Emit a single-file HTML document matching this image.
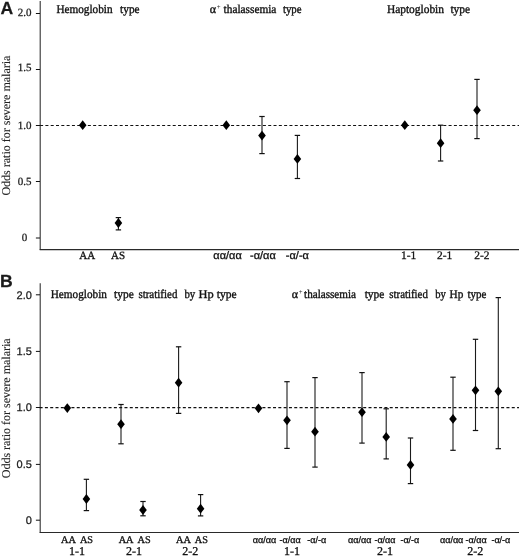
<!DOCTYPE html>
<html><head><meta charset="utf-8"><style>
html,body{margin:0;padding:0;background:#fff;width:520px;height:556px;overflow:hidden}
svg{display:block;will-change:transform;filter:blur(0.3px)}
text{fill:#111;text-rendering:geometricPrecision}
.hd{stroke:#111;stroke-width:0.35px}
.md{stroke:#111;stroke-width:0.3px}
.yl{fill:#222;stroke:#222;stroke-width:0.1px}
.pl{fill:#333}
.lt{fill:#1a1a1a;stroke:#1a1a1a;stroke-width:0.25px}
</style></head><body>
<svg width="520" height="556" viewBox="0 0 520 556">
<line x1="40.2" y1="1" x2="40.2" y2="250.1" stroke="#333" stroke-width="1.1" />
<line x1="39.7" y1="249.6" x2="519" y2="249.6" stroke="#2a2a2a" stroke-width="1.2" />
<line x1="35.9" y1="13.5" x2="40" y2="13.5" stroke="#111" stroke-width="1.0" />
<line x1="35.9" y1="69.5" x2="40" y2="69.5" stroke="#111" stroke-width="1.0" />
<line x1="35.9" y1="125.5" x2="40" y2="125.5" stroke="#111" stroke-width="1.0" />
<line x1="35.9" y1="181.5" x2="40" y2="181.5" stroke="#111" stroke-width="1.0" />
<line x1="35.9" y1="238.0" x2="40" y2="238.0" stroke="#111" stroke-width="1.0" />
<line x1="40.1" y1="125.5" x2="519" y2="125.5" stroke="#111" stroke-width="1.1" stroke-dasharray="3 2.305"/>
<path d="M82.7,120.3 L86.5,125.2 L82.7,130.1 L78.9,125.2 Z" fill="#000"/>
<line x1="118.4" y1="217.6" x2="118.4" y2="229.9" stroke="#1a1a1a" stroke-width="1.1" />
<line x1="115.7" y1="217.6" x2="121.10000000000001" y2="217.6" stroke="#111" stroke-width="1.2" />
<line x1="115.7" y1="229.9" x2="121.10000000000001" y2="229.9" stroke="#111" stroke-width="1.2" />
<path d="M118.4,218.1 L122.2,223 L118.4,227.9 L114.60000000000001,223 Z" fill="#000"/>
<path d="M226.3,120.3 L230.10000000000002,125.2 L226.3,130.1 L222.5,125.2 Z" fill="#000"/>
<line x1="262.0" y1="116.5" x2="262.0" y2="153.6" stroke="#1a1a1a" stroke-width="1.1" />
<line x1="259.3" y1="116.5" x2="264.7" y2="116.5" stroke="#111" stroke-width="1.2" />
<line x1="259.3" y1="153.6" x2="264.7" y2="153.6" stroke="#111" stroke-width="1.2" />
<path d="M262.0,130.7 L265.8,135.6 L262.0,140.5 L258.2,135.6 Z" fill="#000"/>
<line x1="297.4" y1="135.4" x2="297.4" y2="178.5" stroke="#1a1a1a" stroke-width="1.1" />
<line x1="294.7" y1="135.4" x2="300.09999999999997" y2="135.4" stroke="#111" stroke-width="1.2" />
<line x1="294.7" y1="178.5" x2="300.09999999999997" y2="178.5" stroke="#111" stroke-width="1.2" />
<path d="M297.4,154.0 L301.2,158.9 L297.4,163.8 L293.59999999999997,158.9 Z" fill="#000"/>
<path d="M404.8,120.3 L408.6,125.2 L404.8,130.1 L401.0,125.2 Z" fill="#000"/>
<line x1="440.6" y1="125.2" x2="440.6" y2="161" stroke="#1a1a1a" stroke-width="1.1" />
<line x1="437.90000000000003" y1="125.2" x2="443.3" y2="125.2" stroke="#111" stroke-width="1.2" />
<line x1="437.90000000000003" y1="161" x2="443.3" y2="161" stroke="#111" stroke-width="1.2" />
<path d="M440.6,138.29999999999998 L444.40000000000003,143.2 L440.6,148.1 L436.8,143.2 Z" fill="#000"/>
<line x1="477.0" y1="79.4" x2="477.0" y2="138.6" stroke="#1a1a1a" stroke-width="1.1" />
<line x1="474.3" y1="79.4" x2="479.7" y2="79.4" stroke="#111" stroke-width="1.2" />
<line x1="474.3" y1="138.6" x2="479.7" y2="138.6" stroke="#111" stroke-width="1.2" />
<path d="M477.0,105.3 L480.8,110.2 L477.0,115.10000000000001 L473.2,110.2 Z" fill="#000"/>
<line x1="40.2" y1="283.3" x2="40.2" y2="533.0" stroke="#333" stroke-width="1.1" />
<line x1="39.7" y1="532.5" x2="519" y2="532.5" stroke="#2a2a2a" stroke-width="1.2" />
<line x1="35.9" y1="294.8" x2="40" y2="294.8" stroke="#111" stroke-width="1.0" />
<line x1="35.9" y1="351.4" x2="40" y2="351.4" stroke="#111" stroke-width="1.0" />
<line x1="35.9" y1="407.5" x2="40" y2="407.5" stroke="#111" stroke-width="1.0" />
<line x1="35.9" y1="464.4" x2="40" y2="464.4" stroke="#111" stroke-width="1.0" />
<line x1="35.9" y1="520.2" x2="40" y2="520.2" stroke="#111" stroke-width="1.0" />
<line x1="39.6" y1="407.6" x2="519" y2="407.6" stroke="#111" stroke-width="1.1" stroke-dasharray="3 2.305"/>
<path d="M67.3,403.20000000000005 L71.1,408.1 L67.3,413.0 L63.5,408.1 Z" fill="#000"/>
<line x1="86.4" y1="479.3" x2="86.4" y2="510.6" stroke="#1a1a1a" stroke-width="1.1" />
<line x1="83.7" y1="479.3" x2="89.10000000000001" y2="479.3" stroke="#111" stroke-width="1.2" />
<line x1="83.7" y1="510.6" x2="89.10000000000001" y2="510.6" stroke="#111" stroke-width="1.2" />
<path d="M86.4,494.1 L90.2,499 L86.4,503.9 L82.60000000000001,499 Z" fill="#000"/>
<line x1="121.0" y1="404.5" x2="121.0" y2="443.8" stroke="#1a1a1a" stroke-width="1.1" />
<line x1="118.3" y1="404.5" x2="123.7" y2="404.5" stroke="#111" stroke-width="1.2" />
<line x1="118.3" y1="443.8" x2="123.7" y2="443.8" stroke="#111" stroke-width="1.2" />
<path d="M121.0,419.3 L124.8,424.2 L121.0,429.09999999999997 L117.2,424.2 Z" fill="#000"/>
<line x1="143.0" y1="501.5" x2="143.0" y2="515.8" stroke="#1a1a1a" stroke-width="1.1" />
<line x1="140.3" y1="501.5" x2="145.7" y2="501.5" stroke="#111" stroke-width="1.2" />
<line x1="140.3" y1="515.8" x2="145.7" y2="515.8" stroke="#111" stroke-width="1.2" />
<path d="M143.0,505.1 L146.8,510 L143.0,514.9 L139.2,510 Z" fill="#000"/>
<line x1="178.6" y1="346.8" x2="178.6" y2="413.4" stroke="#1a1a1a" stroke-width="1.1" />
<line x1="175.9" y1="346.8" x2="181.29999999999998" y2="346.8" stroke="#111" stroke-width="1.2" />
<line x1="175.9" y1="413.4" x2="181.29999999999998" y2="413.4" stroke="#111" stroke-width="1.2" />
<path d="M178.6,377.8 L182.4,382.7 L178.6,387.59999999999997 L174.79999999999998,382.7 Z" fill="#000"/>
<line x1="200.6" y1="494.6" x2="200.6" y2="515.9" stroke="#1a1a1a" stroke-width="1.1" />
<line x1="197.9" y1="494.6" x2="203.29999999999998" y2="494.6" stroke="#111" stroke-width="1.2" />
<line x1="197.9" y1="515.9" x2="203.29999999999998" y2="515.9" stroke="#111" stroke-width="1.2" />
<path d="M200.6,503.8 L204.4,508.7 L200.6,513.6 L196.79999999999998,508.7 Z" fill="#000"/>
<path d="M258.5,403.40000000000003 L262.3,408.3 L258.5,413.2 L254.7,408.3 Z" fill="#000"/>
<line x1="287.0" y1="381.7" x2="287.0" y2="448.4" stroke="#1a1a1a" stroke-width="1.1" />
<line x1="284.3" y1="381.7" x2="289.7" y2="381.7" stroke="#111" stroke-width="1.2" />
<line x1="284.3" y1="448.4" x2="289.7" y2="448.4" stroke="#111" stroke-width="1.2" />
<path d="M287.0,415.40000000000003 L290.8,420.3 L287.0,425.2 L283.2,420.3 Z" fill="#000"/>
<line x1="315.0" y1="377.6" x2="315.0" y2="467.1" stroke="#1a1a1a" stroke-width="1.1" />
<line x1="312.3" y1="377.6" x2="317.7" y2="377.6" stroke="#111" stroke-width="1.2" />
<line x1="312.3" y1="467.1" x2="317.7" y2="467.1" stroke="#111" stroke-width="1.2" />
<path d="M315.0,426.8 L318.8,431.7 L315.0,436.59999999999997 L311.2,431.7 Z" fill="#000"/>
<line x1="362.0" y1="372.6" x2="362.0" y2="443.1" stroke="#1a1a1a" stroke-width="1.1" />
<line x1="359.3" y1="372.6" x2="364.7" y2="372.6" stroke="#111" stroke-width="1.2" />
<line x1="359.3" y1="443.1" x2="364.7" y2="443.1" stroke="#111" stroke-width="1.2" />
<path d="M362.0,407.3 L365.8,412.2 L362.0,417.09999999999997 L358.2,412.2 Z" fill="#000"/>
<line x1="386.2" y1="408.8" x2="386.2" y2="458.9" stroke="#1a1a1a" stroke-width="1.1" />
<line x1="383.5" y1="408.8" x2="388.9" y2="408.8" stroke="#111" stroke-width="1.2" />
<line x1="383.5" y1="458.9" x2="388.9" y2="458.9" stroke="#111" stroke-width="1.2" />
<path d="M386.2,432.0 L390.0,436.9 L386.2,441.79999999999995 L382.4,436.9 Z" fill="#000"/>
<line x1="410.5" y1="438" x2="410.5" y2="483.6" stroke="#1a1a1a" stroke-width="1.1" />
<line x1="407.8" y1="438" x2="413.2" y2="438" stroke="#111" stroke-width="1.2" />
<line x1="407.8" y1="483.6" x2="413.2" y2="483.6" stroke="#111" stroke-width="1.2" />
<path d="M410.5,460.0 L414.3,464.9 L410.5,469.79999999999995 L406.7,464.9 Z" fill="#000"/>
<line x1="453" y1="377.2" x2="453" y2="450.3" stroke="#1a1a1a" stroke-width="1.1" />
<line x1="450.3" y1="377.2" x2="455.7" y2="377.2" stroke="#111" stroke-width="1.2" />
<line x1="450.3" y1="450.3" x2="455.7" y2="450.3" stroke="#111" stroke-width="1.2" />
<path d="M453,414.0 L456.8,418.9 L453,423.79999999999995 L449.2,418.9 Z" fill="#000"/>
<line x1="475.5" y1="339.3" x2="475.5" y2="430.5" stroke="#1a1a1a" stroke-width="1.1" />
<line x1="472.8" y1="339.3" x2="478.2" y2="339.3" stroke="#111" stroke-width="1.2" />
<line x1="472.8" y1="430.5" x2="478.2" y2="430.5" stroke="#111" stroke-width="1.2" />
<path d="M475.5,385.40000000000003 L479.3,390.3 L475.5,395.2 L471.7,390.3 Z" fill="#000"/>
<line x1="498.3" y1="297.6" x2="498.3" y2="448.7" stroke="#1a1a1a" stroke-width="1.1" />
<line x1="495.6" y1="297.6" x2="501.0" y2="297.6" stroke="#111" stroke-width="1.2" />
<line x1="495.6" y1="448.7" x2="501.0" y2="448.7" stroke="#111" stroke-width="1.2" />
<path d="M498.3,386.40000000000003 L502.1,391.3 L498.3,396.2 L494.5,391.3 Z" fill="#000"/>
<text x="0.5" y="13.7" font-family="'Liberation Sans', sans-serif" font-size="17.6" text-anchor="start" font-weight="bold" class="lt" >A</text>
<text x="-0.1" y="287.0" font-family="'Liberation Sans', sans-serif" font-size="17.6" text-anchor="start" font-weight="bold" class="lt" >B</text>
<text x="24.6" y="15.9" font-family="'Liberation Serif', serif" font-size="11" text-anchor="middle" font-weight="normal" class="lt" >2.0</text>
<text x="24.6" y="70.6" font-family="'Liberation Serif', serif" font-size="11" text-anchor="middle" font-weight="normal" class="lt" >1.5</text>
<text x="24.6" y="129" font-family="'Liberation Serif', serif" font-size="11" text-anchor="middle" font-weight="normal" class="lt" >1.0</text>
<text x="24.6" y="185" font-family="'Liberation Serif', serif" font-size="11" text-anchor="middle" font-weight="normal" class="lt" >0.5</text>
<text x="24.6" y="240.9" font-family="'Liberation Serif', serif" font-size="11" text-anchor="middle" font-weight="normal" class="lt" >0</text>
<text x="31.9" y="298.8" font-family="'Liberation Sans', sans-serif" font-size="11" text-anchor="end" font-weight="normal" class="lt" >2.0</text>
<text x="31.9" y="354.8" font-family="'Liberation Sans', sans-serif" font-size="11" text-anchor="end" font-weight="normal" class="lt" >1.5</text>
<text x="31.9" y="410.9" font-family="'Liberation Sans', sans-serif" font-size="11" text-anchor="end" font-weight="normal" class="lt" >1.0</text>
<text x="31.9" y="467.5" font-family="'Liberation Sans', sans-serif" font-size="11" text-anchor="end" font-weight="normal" class="lt" >0.5</text>
<text x="31.9" y="523.8" font-family="'Liberation Sans', sans-serif" font-size="11" text-anchor="end" font-weight="normal" class="lt" >0</text>
<text x="0" y="0" font-family="'Liberation Serif', serif" font-size="12" text-anchor="middle" font-weight="normal" class="yl" transform="translate(9.8,125.6) rotate(-90)">Odds ratio for severe malaria</text>
<text x="0" y="0" font-family="'Liberation Serif', serif" font-size="12" text-anchor="middle" font-weight="normal" class="yl" transform="translate(9.8,408.3) rotate(-90)">Odds ratio for severe malaria</text>
<text x="56.4" y="12.8" font-family="'Liberation Serif', serif" font-size="12" text-anchor="start" font-weight="normal" class="hd" textLength="56.20" lengthAdjust="spacingAndGlyphs" >Hemoglobin</text>
<text x="120.1" y="12.8" font-family="'Liberation Serif', serif" font-size="12" text-anchor="start" font-weight="normal" class="hd" textLength="19.50" lengthAdjust="spacingAndGlyphs" >type</text>
<text x="209.8" y="12.8" font-family="'Liberation Serif', serif" font-size="12" text-anchor="start" font-weight="normal" class="hd" >α</text>
<text x="216.70000000000002" y="9.200000000000001" font-family="'Liberation Sans', sans-serif" font-size="6.5" text-anchor="start" font-weight="normal" class="pl" >+</text>
<text x="223.60000000000002" y="12.8" font-family="'Liberation Serif', serif" font-size="12" text-anchor="start" font-weight="normal" class="hd" textLength="52.80" lengthAdjust="spacingAndGlyphs" >thalassemia</text>
<text x="282.90000000000003" y="12.8" font-family="'Liberation Serif', serif" font-size="12" text-anchor="start" font-weight="normal" class="hd" textLength="18.70" lengthAdjust="spacingAndGlyphs" >type</text>
<text x="386.90000000000003" y="12.8" font-family="'Liberation Serif', serif" font-size="12" text-anchor="start" font-weight="normal" class="hd" textLength="57.10" lengthAdjust="spacingAndGlyphs" >Haptoglobin</text>
<text x="450.40000000000003" y="12.8" font-family="'Liberation Serif', serif" font-size="12" text-anchor="start" font-weight="normal" class="hd" textLength="19.80" lengthAdjust="spacingAndGlyphs" >type</text>
<text x="50.699999999999996" y="298" font-family="'Liberation Serif', serif" font-size="12" text-anchor="start" font-weight="normal" class="hd" textLength="56.20" lengthAdjust="spacingAndGlyphs" >Hemoglobin</text>
<text x="114.1" y="298" font-family="'Liberation Serif', serif" font-size="12" text-anchor="start" font-weight="normal" class="hd" textLength="19.70" lengthAdjust="spacingAndGlyphs" >type</text>
<text x="138.4" y="298" font-family="'Liberation Serif', serif" font-size="12" text-anchor="start" font-weight="normal" class="hd" textLength="39.00" lengthAdjust="spacingAndGlyphs" >stratified</text>
<text x="184.4" y="298" font-family="'Liberation Serif', serif" font-size="12" text-anchor="start" font-weight="normal" class="hd" textLength="10.80" lengthAdjust="spacingAndGlyphs" >by</text>
<text x="198.60000000000002" y="298" font-family="'Liberation Serif', serif" font-size="12" text-anchor="start" font-weight="normal" class="hd" textLength="15.20" lengthAdjust="spacingAndGlyphs" >Hp</text>
<text x="216.70000000000002" y="298" font-family="'Liberation Serif', serif" font-size="12" text-anchor="start" font-weight="normal" class="hd" textLength="19.90" lengthAdjust="spacingAndGlyphs" >type</text>
<text x="291.8" y="297.6" font-family="'Liberation Serif', serif" font-size="12" text-anchor="start" font-weight="normal" class="hd" >α</text>
<text x="298.7" y="294.0" font-family="'Liberation Sans', sans-serif" font-size="6.5" text-anchor="start" font-weight="normal" class="pl" >+</text>
<text x="304.1" y="298" font-family="'Liberation Serif', serif" font-size="12" text-anchor="start" font-weight="normal" class="hd" textLength="51.90" lengthAdjust="spacingAndGlyphs" >thalassemia</text>
<text x="364.7" y="298" font-family="'Liberation Serif', serif" font-size="12" text-anchor="start" font-weight="normal" class="hd" textLength="19.70" lengthAdjust="spacingAndGlyphs" >type</text>
<text x="389.3" y="298" font-family="'Liberation Serif', serif" font-size="12" text-anchor="start" font-weight="normal" class="hd" textLength="38.50" lengthAdjust="spacingAndGlyphs" >stratified</text>
<text x="435.2" y="298" font-family="'Liberation Serif', serif" font-size="12" text-anchor="start" font-weight="normal" class="hd" textLength="10.60" lengthAdjust="spacingAndGlyphs" >by</text>
<text x="449.6" y="298" font-family="'Liberation Serif', serif" font-size="12" text-anchor="start" font-weight="normal" class="hd" textLength="13.80" lengthAdjust="spacingAndGlyphs" >Hp</text>
<text x="467.40000000000003" y="298" font-family="'Liberation Serif', serif" font-size="12" text-anchor="start" font-weight="normal" class="hd" textLength="19.00" lengthAdjust="spacingAndGlyphs" >type</text>
<text x="79.2" y="259" font-family="'Liberation Serif', serif" font-size="11" text-anchor="start" font-weight="normal" class="md" >AA</text>
<text x="111" y="259" font-family="'Liberation Serif', serif" font-size="11" text-anchor="start" font-weight="normal" class="md" >AS</text>
<text x="401.0" y="259.3" font-family="'Liberation Serif', serif" font-size="11.5" text-anchor="start" font-weight="normal" class="md" >1-1</text>
<text x="437" y="259.3" font-family="'Liberation Serif', serif" font-size="11.5" text-anchor="start" font-weight="normal" class="md" >2-1</text>
<text x="474.2" y="259.3" font-family="'Liberation Serif', serif" font-size="11.5" text-anchor="start" font-weight="normal" class="md" >2-2</text>
<text x="213.3" y="259" font-family="'Liberation Sans', sans-serif" font-size="11" text-anchor="start" font-weight="normal" class="md" >αα/αα</text>
<text x="250" y="259" font-family="'Liberation Sans', sans-serif" font-size="11" text-anchor="start" font-weight="normal" class="md" >-α/αα</text>
<text x="285.8" y="259" font-family="'Liberation Sans', sans-serif" font-size="11" text-anchor="start" font-weight="normal" class="md" >-α/-α</text>
<text x="61.1" y="543" font-family="'Liberation Serif', serif" font-size="10.3" text-anchor="start" font-weight="normal" class="md" >AA</text>
<text x="79.9" y="543" font-family="'Liberation Serif', serif" font-size="10.3" text-anchor="start" font-weight="normal" class="md" >AS</text>
<text x="118.7" y="543" font-family="'Liberation Serif', serif" font-size="10.3" text-anchor="start" font-weight="normal" class="md" >AA</text>
<text x="137.5" y="543" font-family="'Liberation Serif', serif" font-size="10.3" text-anchor="start" font-weight="normal" class="md" >AS</text>
<text x="176" y="543" font-family="'Liberation Serif', serif" font-size="10.3" text-anchor="start" font-weight="normal" class="md" >AA</text>
<text x="194.8" y="543" font-family="'Liberation Serif', serif" font-size="10.3" text-anchor="start" font-weight="normal" class="md" >AS</text>
<text x="69" y="554.8" font-family="'Liberation Serif', serif" font-size="12" text-anchor="start" font-weight="normal" class="md" >1-1</text>
<text x="125.9" y="554.8" font-family="'Liberation Serif', serif" font-size="12" text-anchor="start" font-weight="normal" class="md" >2-1</text>
<text x="182.3" y="554.8" font-family="'Liberation Serif', serif" font-size="12" text-anchor="start" font-weight="normal" class="md" >2-2</text>
<text x="283.9" y="554.8" font-family="'Liberation Serif', serif" font-size="12" text-anchor="start" font-weight="normal" class="md" >1-1</text>
<text x="377" y="554.8" font-family="'Liberation Serif', serif" font-size="12" text-anchor="start" font-weight="normal" class="md" >2-1</text>
<text x="467.2" y="554.8" font-family="'Liberation Serif', serif" font-size="12" text-anchor="start" font-weight="normal" class="md" >2-2</text>
<text x="252.8" y="543" font-family="'Liberation Sans', sans-serif" font-size="9" text-anchor="start" font-weight="normal" class="md" >αα/αα</text>
<text x="279.6" y="543" font-family="'Liberation Sans', sans-serif" font-size="9" text-anchor="start" font-weight="normal" class="md" >-α/αα</text>
<text x="307.3" y="543" font-family="'Liberation Sans', sans-serif" font-size="9" text-anchor="start" font-weight="normal" class="md" >-α/-α</text>
<text x="348.1" y="543" font-family="'Liberation Sans', sans-serif" font-size="9" text-anchor="start" font-weight="normal" class="md" >αα/αα</text>
<text x="374.4" y="543" font-family="'Liberation Sans', sans-serif" font-size="9" text-anchor="start" font-weight="normal" class="md" >-α/αα</text>
<text x="400.4" y="543" font-family="'Liberation Sans', sans-serif" font-size="9" text-anchor="start" font-weight="normal" class="md" >-α/-α</text>
<text x="440" y="543" font-family="'Liberation Sans', sans-serif" font-size="9" text-anchor="start" font-weight="normal" class="md" >αα/αα</text>
<text x="465.5" y="543" font-family="'Liberation Sans', sans-serif" font-size="9" text-anchor="start" font-weight="normal" class="md" >-α/αα</text>
<text x="491.4" y="543" font-family="'Liberation Sans', sans-serif" font-size="9" text-anchor="start" font-weight="normal" class="md" >-α/-α</text>
</svg>
</body></html>
